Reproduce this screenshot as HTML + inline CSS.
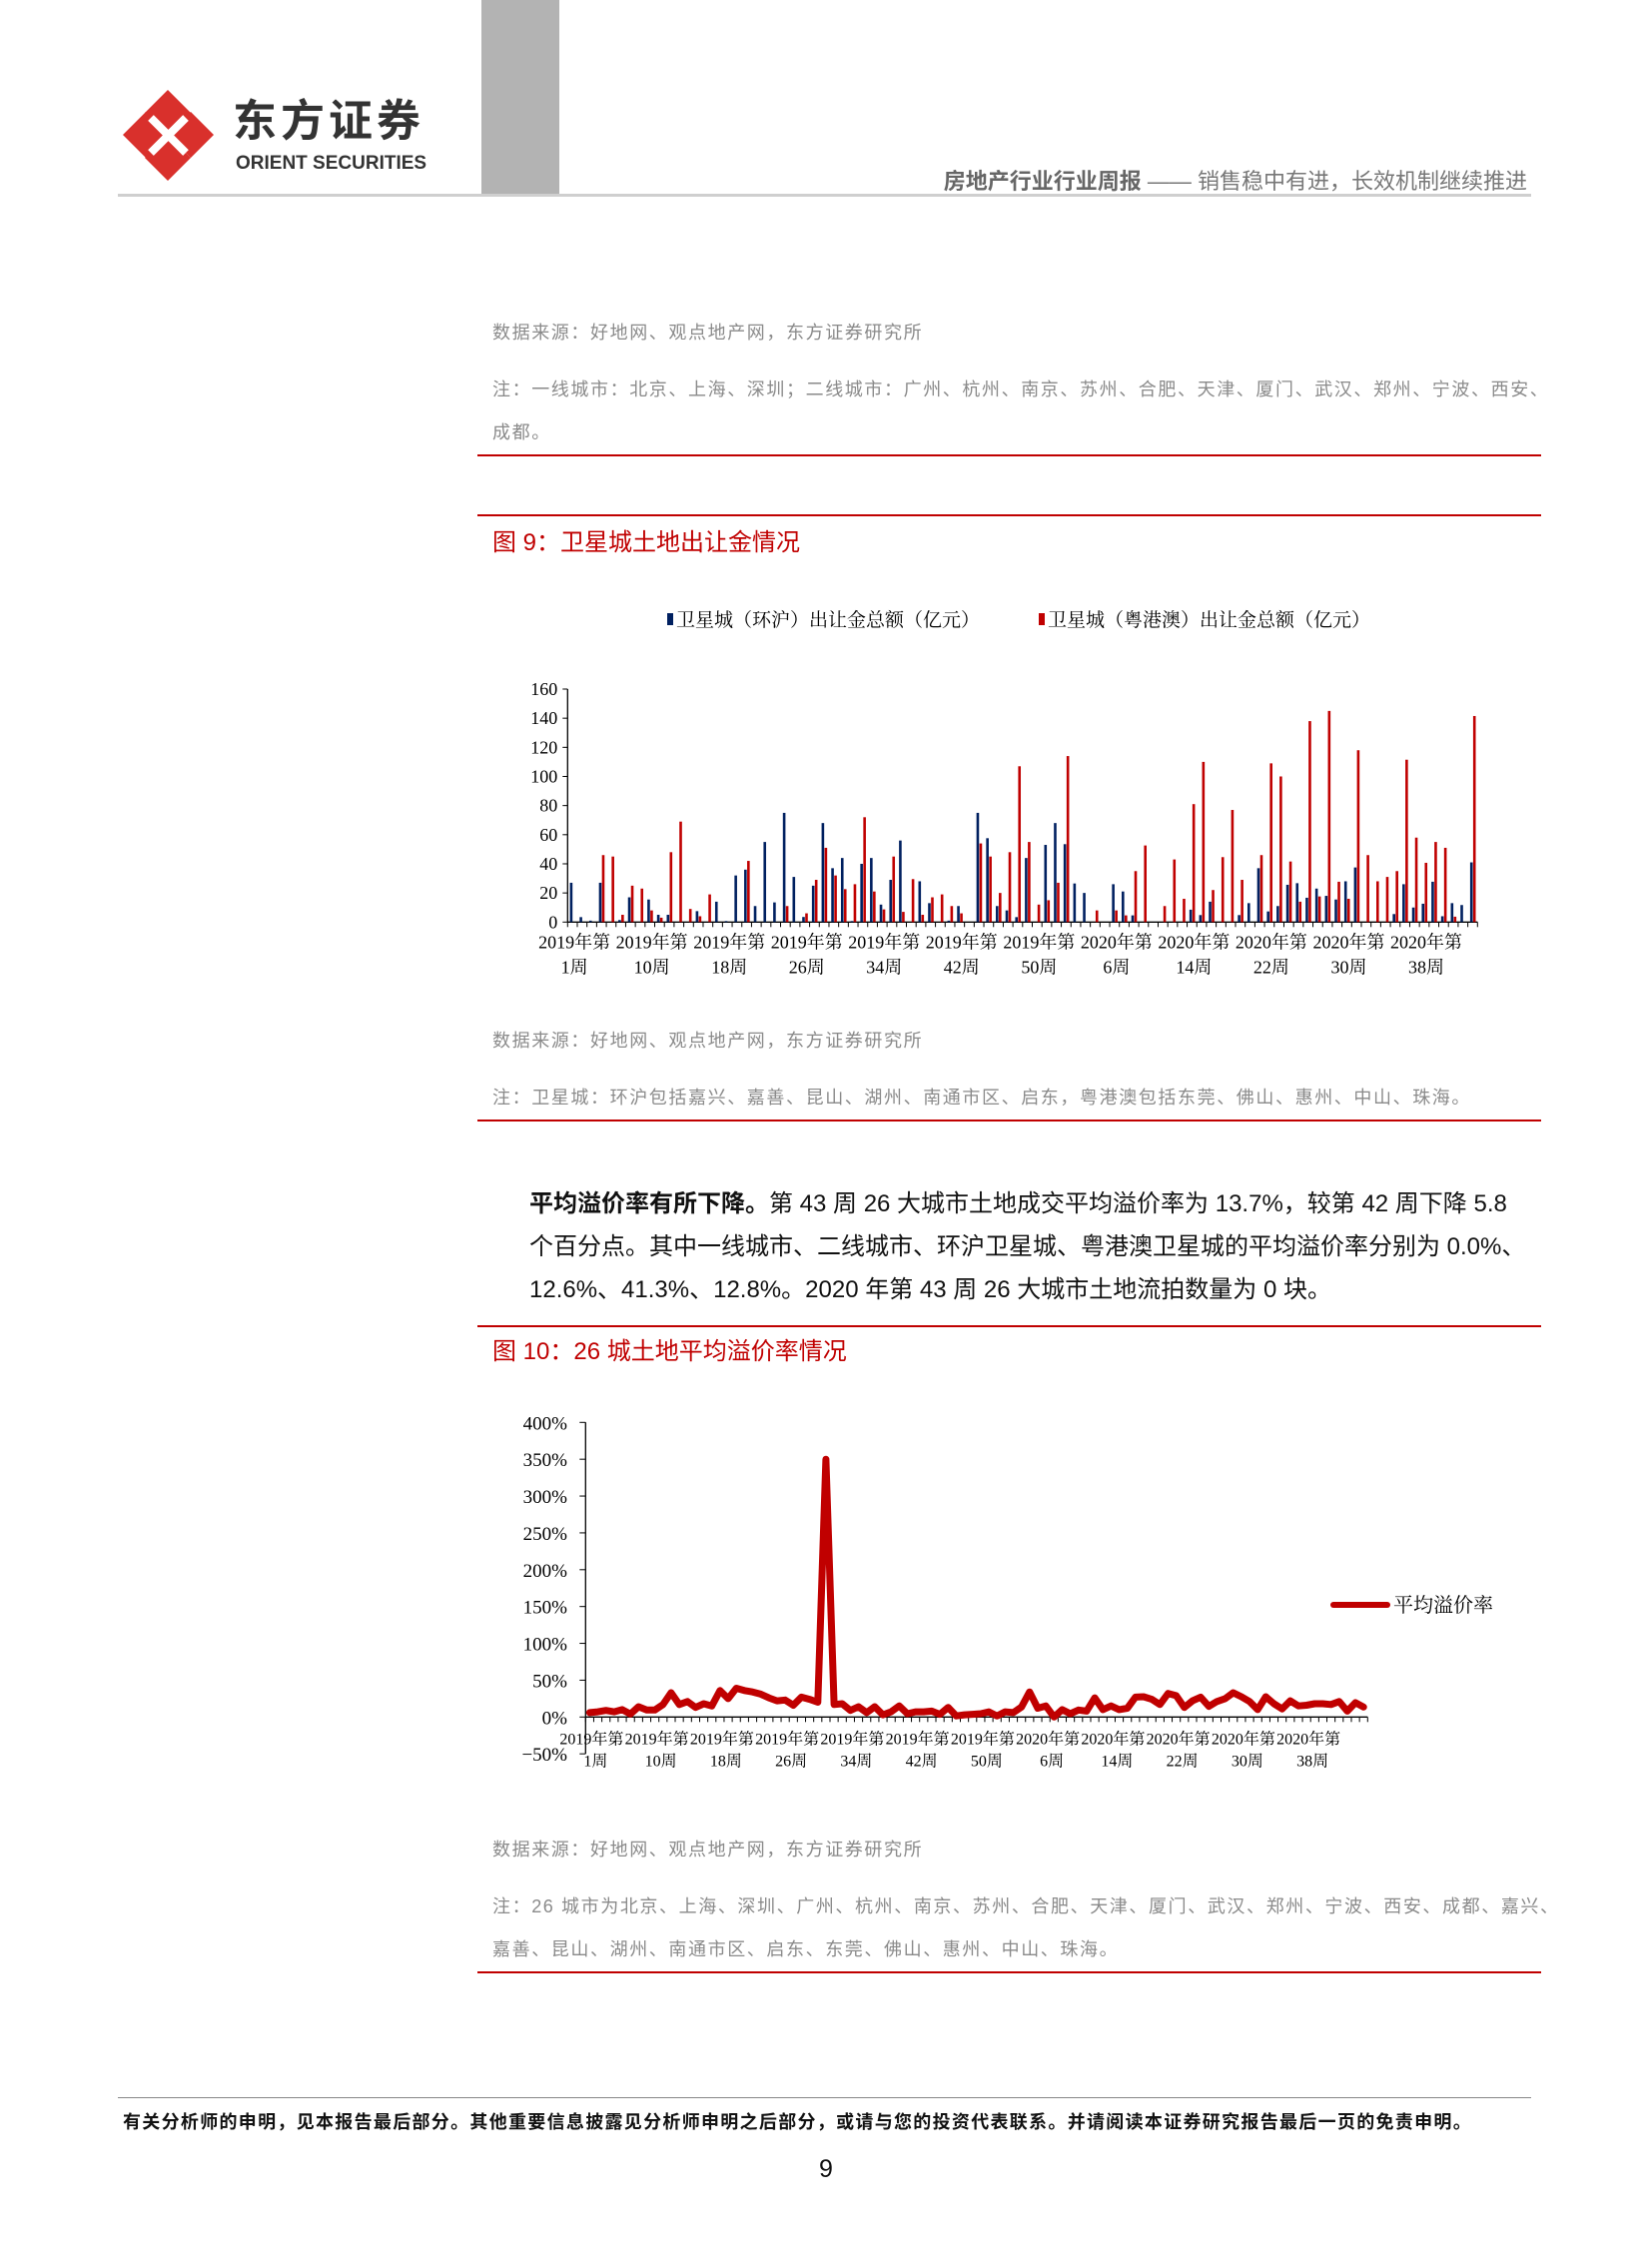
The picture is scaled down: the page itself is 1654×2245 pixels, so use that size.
<!DOCTYPE html>
<html><head><meta charset="utf-8">
<style>
html,body{margin:0;padding:0;background:#fff;}
body{width:1654px;height:2245px;position:relative;overflow:hidden;font-family:"Liberation Sans","Noto Sans CJK SC",sans-serif;}
.a{position:absolute;white-space:nowrap;}
.note{color:#8a8a8a;font-size:18px;letter-spacing:1.6px;}
.rl{position:absolute;background:#c00000;}
</style></head><body>
<div class="a" style="left:482px;top:0;width:78px;height:195px;background:#b3b3b3"></div>
<div class="a" style="left:118px;top:194px;width:1415px;height:3px;background:#cfcfcf"></div>
<svg class="a" style="left:121px;top:88px" width="95" height="95" viewBox="0 0 95 95">
<polygon points="47,2 70,25 47,48 24,25" fill="#d9302c"/><polygon points="47,47 70,70 47,93 24,70" fill="#d9302c"/>
<polygon points="2,47 25,24 48,47 25,70" fill="#d9302c"/><polygon points="70,24 93,47 70,70 47,47" fill="#d9302c"/>
<path d="M30 30 L65 65 M65 30 L30 65" stroke="#fff" stroke-width="8"/></svg>
<div class="a" style="left:233px;top:96px;font-size:44px;line-height:52px;font-weight:bold;color:#333;letter-spacing:4px">东方证券</div>
<div class="a" style="left:236px;top:153px;font-size:19px;line-height:22px;font-weight:bold;color:#333">ORIENT SECURITIES</div>
<div class="a" style="right:125px;top:164px;font-size:22px;color:#777"><b style="color:#666">房地产行业行业周报</b> —— 销售稳中有进，长效机制继续推进</div>

<div class="a note" style="left:493px;top:319px">数据来源：好地网、观点地产网，东方证券研究所</div>
<div class="a note" style="left:493px;top:376px">注：一线城市：北京、上海、深圳；二线城市：广州、杭州、南京、苏州、合肥、天津、厦门、武汉、郑州、宁波、西安、</div>
<div class="a note" style="left:493px;top:419px">成都。</div>
<div class="rl" style="left:478px;top:455px;width:1065px;height:2px"></div>

<div class="rl" style="left:478px;top:515px;width:1065px;height:2px"></div>
<div class="a" style="left:493px;top:523px;font-size:24px;color:#c00000">图 9：卫星城土地出让金情况</div>

<div class="a note" style="left:493px;top:1028px">数据来源：好地网、观点地产网，东方证券研究所</div>
<div class="a note" style="left:493px;top:1085px">注：卫星城：环沪包括嘉兴、嘉善、昆山、湖州、南通市区、启东，粤港澳包括东莞、佛山、惠州、中山、珠海。</div>
<div class="rl" style="left:478px;top:1121px;width:1065px;height:2px"></div>

<div class="a" style="left:530px;top:1184px;font-size:24px;color:#111;line-height:43px">
<b>平均溢价率有所下降。</b>第 43 周 26 大城市土地成交平均溢价率为 13.7%，较第 42 周下降 5.8<br>个百分点。其中一线城市、二线城市、环沪卫星城、粤港澳卫星城的平均溢价率分别为 0.0%、<br>12.6%、41.3%、12.8%。2020 年第 43 周 26 大城市土地流拍数量为 0 块。</div>

<div class="rl" style="left:478px;top:1327px;width:1065px;height:2px"></div>
<div class="a" style="left:493px;top:1333px;font-size:24px;color:#c00000">图 10：26 城土地平均溢价率情况</div>

<div class="a note" style="left:493px;top:1838px">数据来源：好地网、观点地产网，东方证券研究所</div>
<div class="a note" style="left:493px;top:1895px">注：26 城市为北京、上海、深圳、广州、杭州、南京、苏州、合肥、天津、厦门、武汉、郑州、宁波、西安、成都、嘉兴、</div>
<div class="a note" style="left:493px;top:1938px">嘉善、昆山、湖州、南通市区、启东、东莞、佛山、惠州、中山、珠海。</div>
<div class="rl" style="left:478px;top:1974px;width:1065px;height:2px"></div>

<div class="a" style="left:118px;top:2100px;width:1415px;height:1px;background:#888"></div>
<div class="a" style="left:123px;top:2111px;font-size:18px;letter-spacing:1.3px;font-weight:bold;color:#111">有关分析师的申明，见本报告最后部分。其他重要信息披露见分析师申明之后部分，或请与您的投资代表联系。并请阅读本证券研究报告最后一页的免责申明。</div>
<div class="a" style="left:820px;top:2158px;font-size:25px;color:#111">9</div>

<svg id="c1" class="a" style="left:0;top:0" width="1654" height="2245"></svg>
<script>
const weekLabels1=["2019年第\n1周","2019年第\n10周","2019年第\n18周","2019年第\n26周","2019年第\n34周","2019年第\n42周","2019年第\n50周","2020年第\n6周","2020年第\n14周","2020年第\n22周","2020年第\n30周","2020年第\n38周"];
const yTicks1=[0,20,40,60,80,100,120,140,160];
const huhu=[27,3.4,1,27,0,1.4,17,0,15.5,5,5,0,0,7.5,0,14,0.7,32,36,11,55,13.5,75,31,3.5,25,68,37,44,0.7,40,44,12,29,56,0,28,13,0,1,11,0,75,57.6,11,8,3.4,44,0,53,68,53.5,26.5,20,0,0,26,21,4.6,0,0,0,0,0,8.5,4.8,14,0,0,4.8,13,37,7.3,11,25.6,26.7,16.7,23,18,15.5,28,37.5,0,0,0,5.5,26,10,12.6,27.7,4,13,11.7,41];
const ygaoao=[0,0,0,46,45,5,25,23,8,3,48,69,9,4,19,0,0,0,42,0,0,0,11,0,6,29,51,32,22.6,26,72,21,8.7,45,7,29.5,5,17,19,11,6,0,54,45,20,48,107,55,12,15,27,114,0,0,8,0,8,4.6,35,52.6,0,11,43,16,81,110,22,44.6,77,29,0,46,109,100,41.6,14,138,17.6,145,27.7,16,118,46,28,31,35,111.5,58,40.7,55,51,3.7,0,141.5];
(function(){
const svg=document.getElementById('c1');const NS='http://www.w3.org/2000/svg';
const X0=568.3,X1=1479.3,Y0=923.3,Y1=690,N=huhu.length,cw=(X1-X0)/N;
const ys=v=>Y0-(v/160)*(Y0-Y1);
function el(t,a,p){const e=document.createElementNS(NS,t);for(const k in a)e.setAttribute(k,a[k]);(p||svg).appendChild(e);return e;}
const g=el('g',{});


el('line',{x1:X0,y1:Y1,x2:X0,y2:Y0,stroke:'#000','stroke-width':1.3},g);
el('line',{x1:X0,y1:Y0,x2:X1,y2:Y0,stroke:'#000','stroke-width':1.3},g);
yTicks1.forEach(v=>{el('line',{x1:X0-5,y1:ys(v),x2:X0,y2:ys(v),stroke:'#000'},g);
const t=el('text',{x:X0-10,y:ys(v)+6,'text-anchor':'end','font-size':18,'font-family':'"Liberation Serif","Noto Serif CJK SC",serif'},g);t.textContent=v;

});
for(let i=0;i<=N;i++)el('line',{x1:X0+i*cw,y1:Y0,x2:X0+i*cw,y2:Y0+5,stroke:'#000'},g);
weekLabels1.forEach((s,j)=>{const cx=X0+(j*8+0.5)*cw;const p=s.split('\n');
const t=el('text',{x:cx+2,y:Y0+26,'text-anchor':'middle','font-size':18,'font-family':'"Liberation Serif","Noto Serif CJK SC",serif'},g);t.textContent=p[0];


const t2=el('text',{x:cx+2,y:Y0+51,'text-anchor':'middle','font-size':18,'font-family':'"Liberation Serif","Noto Serif CJK SC",serif'},g);t2.textContent=p[1];

});
for(let i=0;i<N;i++){
 if(huhu[i]>0){const r=el('rect',{x:X0+i*cw+2.3,y:ys(huhu[i]),width:2.6,height:Y0-ys(huhu[i]),fill:'#002060'});
 
 }
 if(ygaoao[i]>0){const r=el('rect',{x:X0+i*cw+5.3,y:ys(ygaoao[i]),width:2.6,height:Y0-ys(ygaoao[i]),fill:'#c00000'});
 
 }
}
const lg=el('g',{});


el('rect',{x:668,y:614,width:6,height:12,fill:'#002060'},lg);
let t=el('text',{x:677,y:627,'font-size':19,'font-family':'"Liberation Serif","Noto Serif CJK SC",serif'},lg);t.textContent='卫星城（环沪）出让金总额（亿元）';
el('rect',{x:1040,y:614,width:6,height:12,fill:'#c00000'},lg);
t=el('text',{x:1049,y:627,'font-size':19,'font-family':'"Liberation Serif","Noto Serif CJK SC",serif'},lg);t.textContent='卫星城（粤港澳）出让金总额（亿元）';
})();
</script>

<svg id="c2" class="a" style="left:0;top:0" width="1654" height="2245"></svg>
<script>
const weekLabels2=["2019年第\n1周","2019年第\n10周","2019年第\n18周","2019年第\n26周","2019年第\n34周","2019年第\n42周","2019年第\n50周","2020年第\n6周","2020年第\n14周","2020年第\n22周","2020年第\n30周","2020年第\n38周"];
const yTicks2=[-50,0,50,100,150,200,250,300,350,400];
const premium=[6,7,9,7,10,4,14,9.5,9.5,17,33,17,21,13,18,15,36,25,39,36,34,31,26,22,23,16,27,24,20,350,17,18,9,14,6,14,3,7,15,4.5,7,7,8,3.6,13,1.5,3,3.6,4.5,7,1.5,7,6,13.5,34,12,15,0,10,4.5,9.5,8,26,10,15,10,12,27,27.5,24,17,32,29,13,22,27,14.5,21,25,33,27.5,21,10,27.5,18,11,22,15,16,18,18,17,21,8,19.5,13.5];
(function(){
const svg=document.getElementById('c2');const NS='http://www.w3.org/2000/svg';
const X0=586.3,X1=1369.3,Y0=1719.3,N=premium.length,cw=(X1-X0)/N;
const ys=v=>Y0-v*0.7375;
function el(t,a,p){const e=document.createElementNS(NS,t);for(const k in a)e.setAttribute(k,a[k]);(p||svg).appendChild(e);return e;}
const g=el('g',{});


el('line',{x1:X0,y1:ys(400),x2:X0,y2:ys(-50),stroke:'#000','stroke-width':1.3},g);
el('line',{x1:X0,y1:Y0,x2:X1,y2:Y0,stroke:'#000','stroke-width':1.3},g);
yTicks2.forEach(v=>{el('line',{x1:X0-6,y1:ys(v),x2:X0,y2:ys(v),stroke:'#000'},g);
const t=el('text',{x:568,y:ys(v)+7,'text-anchor':'end','font-size':19,'font-family':'"Liberation Serif","Noto Serif CJK SC",serif'},g);t.textContent=(v<0?'\u221250':v)+'%';

});
for(let i=0;i<=N;i++)el('line',{x1:X0+i*cw,y1:Y0,x2:X0+i*cw,y2:Y0+5,stroke:'#000'},g);
weekLabels2.forEach((s,j)=>{const cx=X0+(j*8+0.5)*cw;const p=s.split('\n');
const t=el('text',{x:cx+2,y:Y0+27,'text-anchor':'middle','font-size':16,'font-family':'"Liberation Serif","Noto Serif CJK SC",serif'},g);t.textContent=p[0];


const t2=el('text',{x:cx+6,y:Y0+49,'text-anchor':'middle','font-size':16,'font-family':'"Liberation Serif","Noto Serif CJK SC",serif'},g);t2.textContent=p[1];

});
let d='';premium.forEach((v,i)=>{d+=(i?'L':'M')+(X0+(i+0.5)*cw).toFixed(1)+' '+ys(v).toFixed(1)+' ';});
const pl=el('path',{d:d,fill:'none',stroke:'#c00000','stroke-width':7,'stroke-linejoin':'round','stroke-linecap':'round'});


const lg=el('g',{});


el('line',{x1:1335,y1:1607,x2:1389,y2:1607,stroke:'#c00000','stroke-width':6,'stroke-linecap':'round'},lg);
const t=el('text',{x:1395,y:1614,'font-size':20,'font-family':'"Liberation Serif","Noto Serif CJK SC",serif'},lg);t.textContent='平均溢价率';
})();
</script>
</body></html>
